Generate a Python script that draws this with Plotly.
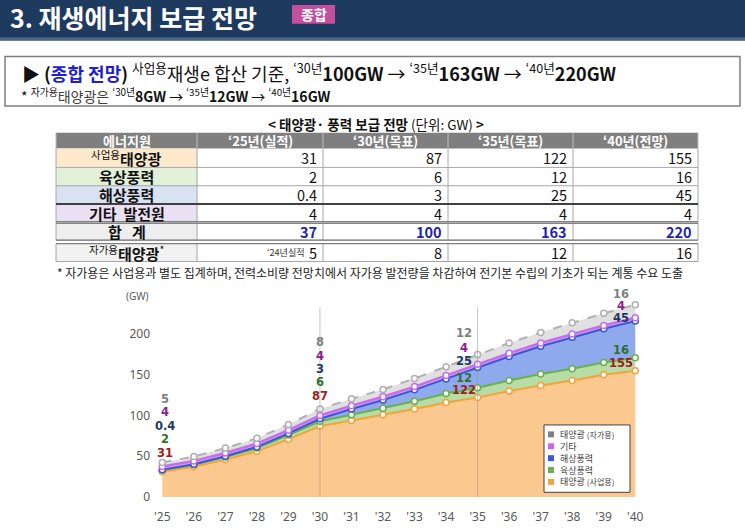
import plotly.graph_objects as go

KR = "Noto Sans CJK KR"
W, H = 745, 529

# stacked area series (GW)
years = list(range(2025, 2041))
year_ticks = ["'25", "'26", "'27", "'28", "'29", "'30", "'31", "'32",
              "'33", "'34", "'35", "'36", "'37", "'38", "'39", "'40"]
solar_biz = [31, 37, 46, 56, 71, 87, 94, 101, 108, 116, 122, 130, 137, 143, 150, 155]
wind_on = [2, 2.5, 3, 4, 5, 6, 7, 8, 9.5, 11, 12, 13, 14, 14.5, 15, 16]
wind_off = [0.4, 0.6, 1, 1.5, 2, 3, 7, 10, 14, 18, 25, 29.5, 34, 38.5, 41.5, 45]
other = [4, 4, 4, 4, 4, 4, 4, 4, 4, 4, 4, 4, 4, 4, 4, 4]
solar_self = [5, 5.5, 6, 6.5, 7, 8, 8.5, 9, 10, 11, 12, 12.5, 13, 14, 15, 16]
y_ticks = [0, 50, 100, 150, 200]

# table
tbl_head = ["에너지원", "‘25년(실적)", "‘30년(목표)", "‘35년(목표)", "‘40년(전망)"]
tbl_rows = ["<sup>사업용</sup><b>태양광</b>", "<b>육상풍력</b>", "<b>해상풍력</b>",
            "<b>기타\u00a0\u00a0발전원</b>", "<b>합\u00a0\u00a0\u00a0계</b>",
            "<sup>자가용</sup><b>태양광</b><sup>*</sup>"]
tbl_solar = [31, 87, 122, 155]
tbl_on = [2, 6, 12, 16]
tbl_off = [0.4, 3, 25, 45]
tbl_other = [4, 4, 4, 4]
tbl_total = [37, 100, 163, 220]
tbl_self = [5, 8, 12, 16]


def px(p):
    return p / W


def py(p):
    return 1 - p / H


def fmt(v):
    return "%g" % v


def note(text, x, y, size, color="#111", xa="left", ya="middle", family=KR):
    return dict(text=text, x=px(x), y=py(y), xref="paper", yref="paper", xanchor=xa,
                yanchor=ya, align=xa if xa != "center" else "center", showarrow=False,
                font=dict(size=size, color=color, family=family))


def prect(x0, x1, y0, y1, fill, line=None, layer="above"):
    return dict(type="rect", xref="paper", yref="paper", x0=px(x0), x1=px(x1),
                y0=py(y1), y1=py(y0), fillcolor=fill, layer=layer,
                line=line if line else dict(width=0))


def pline(x0, x1, y0, y1, color, width):
    return dict(type="line", xref="paper", yref="paper", x0=px(x0), x1=px(x1),
                y0=py(y0), y1=py(y1), line=dict(color=color, width=width))


fig = go.Figure()

# ---- stacked areas ----
series = [
    ("태양광(사업용)", solar_biz, "#f4a23a", "#fbc98f", "solid"),
    ("육상풍력", wind_on, "#6ab04c", "#b7dca5", "solid"),
    ("해상풍력", wind_off, "#3a58d6", "#8ea9ec", "solid"),
    ("기타", other, "#c66ef0", "#dfa8f3", "solid"),
    ("태양광(자가용)", solar_self, "#b0b0b0", "#e0e0e0", "dash"),
]
for name, vals, lc, fc, dash in series:
    fig.add_trace(go.Scatter(
        x=years, y=vals, name=name, stackgroup="one", mode="lines+markers",
        line=dict(color=lc, width=2.5 if name == "기타" else 2, dash=dash),
        fillcolor=fc,
        marker=dict(symbol="circle", size=6, color="white", line=dict(color=lc, width=1.5)),
        showlegend=False, hoverinfo="skip",
    ))

fig.update_xaxes(domain=[px(151), px(690)], range=[2024.642, 2041.736],
                 tickvals=years, ticktext=year_ticks, showgrid=False, zeroline=False,
                 showline=False, ticks="outside", ticklen=5, tickcolor="rgba(0,0,0,0)",
                 tickfont=dict(size=12, color="#595959", family="Noto Sans"))
fig.update_yaxes(domain=[24 / H, 239 / H], range=[-4.01, 257.5], tickvals=y_ticks,
                 showgrid=False, zeroline=False, showline=False,
                 tickfont=dict(size=12, color="#595959", family="Noto Sans"))

shapes = []
ann = []
for yr in (2030, 2035):
    shapes.append(dict(type="line", xref="x", yref="y", x0=yr, x1=yr, y0=0, y1=233,
                       line=dict(color="rgba(150,150,150,0.55)", width=1)))

# ---- header band and summary box ----
shapes.append(prect(0, W, 0, 41, "#1f3a5f", layer="below"))
shapes.append(prect(0, W, 37.5, 41, "#4a6585", layer="below"))
shapes.append(prect(292, 335, 5, 24, "#c2509c"))
shapes.append(prect(5, 740, 57, 107, "white", line=dict(color="#7f7f7f", width=1.5), layer="below"))

ann.append(note("<b>3. 재생에너지 보급 전망</b>", 8, 17, 25, "white"))
ann.append(note("<b>종합</b>", 313.5, 14.5, 14, "white", xa="center"))
line1 = ("▶ <b>(<span style='color:#1f1fd1'>종합 전망</span>)</b> <sup>사업용</sup>재생e 합산 기준, "
         "<sup>‘30년</sup><b>100GW</b> → <sup>‘35년</sup><b>163GW</b> → <sup>‘40년</sup><b>220GW</b>")
ann.append(note(line1, 20, 73, 18))
line2 = ("* <sup>자가용</sup><span style='color:#404040'>태양광은</span> <sup>‘30년</sup><b>8GW</b> → "
         "<sup>‘35년</sup><b>12GW</b> → <sup>‘40년</sup><b>16GW</b>")
ann.append(note(line2, 19, 96, 14))

# ---- table ----
ann.append(note("<b>&lt; 태양광· 풍력 보급 전망</b> (단위: GW) <b>&gt;</b>", 376, 125, 13.5, xa="center"))

col_edges = [56, 197, 323, 448, 573, 698]
row_spans = [(134, 150), (150, 169), (169, 187.5), (187.5, 206), (206, 224.5), (224.5, 242.5), (246, 264)]
first_fill = ["#fde9cc", "#e2efd9", "#d9e2f3", "#ebdff3", "#eeeeee", "#f2f2f2"]

shapes.append(prect(col_edges[0], col_edges[-1], 134, 150, "#7f7f7f", layer="below"))
for (y0, y1), fc in zip(row_spans[1:], first_fill):
    shapes.append(prect(col_edges[0], col_edges[1], y0, y1, fc, layer="below"))

grid = "#a6a6a6"
for (y0, y1) in row_spans[1:]:
    shapes.append(pline(col_edges[0], col_edges[-1], y1, y1, grid, 1))
for x in col_edges:
    shapes.append(pline(x, x, 150, 242.5, grid, 1))
    shapes.append(pline(x, x, 246, 264, grid, 1))
    shapes.append(pline(x, x, 134, 150, "#bfbfbf", 1))
shapes.append(pline(col_edges[0], col_edges[-1], 206, 206, "#404040", 2))
shapes.append(pline(col_edges[0], col_edges[-1], 223.6, 223.6, "#7f7f7f", 1))
shapes.append(pline(col_edges[0], col_edges[-1], 225.6, 225.6, "#7f7f7f", 1))
shapes.append(pline(col_edges[0], col_edges[-1], 242.5, 242.5, "#7f7f7f", 1.2))
shapes.append(pline(col_edges[0], col_edges[-1], 246, 246, "#7f7f7f", 1.2))

for j, h in enumerate(tbl_head):
    cx = (col_edges[j] + col_edges[j + 1]) / 2
    ann.append(note("<b>%s</b>" % h, cx, 142, 13, "white", xa="center"))

row_cy = [(a + b) / 2 for a, b in row_spans[1:]]
for lab, cy in zip(tbl_rows, row_cy):
    ann.append(note(lab, (col_edges[0] + col_edges[1]) / 2, cy, 15, "#111", xa="center"))

for j in range(4):
    xr = col_edges[j + 2] - 4
    vals = [fmt(tbl_solar[j]), fmt(tbl_on[j]), fmt(tbl_off[j]), fmt(tbl_other[j]),
            "<b>%s</b>" % fmt(tbl_total[j]), fmt(tbl_self[j])]
    colors = ["#111", "#111", "#111", "#111", "#1f1fb4", "#111"]
    for v, c, cy in zip(vals, colors, row_cy):
        ann.append(note(v, xr, cy, 14.5, c, xa="right"))
ann.append(note("<sup>‘24년실적</sup>", col_edges[2] - 16, row_cy[-1] - 1, 13, "#333", xa="right"))

ann.append(note("* 자가용은 사업용과 별도 집계하며, 전력소비량 전망치에서 자가용 발전량을 차감하여 "
                "전기본 수립의 기초가 되는 계통 수요 도출", 55, 275, 12, "#222"))

# ---- manual legend ----
shapes.append(prect(544, 630, 429, 497, "white", line=dict(color="#404040", width=1)))
legend_items = [
    ("태양광 <span style='font-size:8px'>(자가용)</span>", "#808080"),
    ("기타", "#cc66ee"),
    ("해상풍력", "#3a58d6"),
    ("육상풍력", "#6ab04c"),
    ("태양광 <span style='font-size:8px'>(사업용)</span>", "#f4a23a"),
]
leg_y = [438.5, 450.5, 462.5, 474.5, 486.5]
for (txt, c), yy in zip(legend_items, leg_y):
    shapes.append(prect(548, 554, yy - 3, yy + 3, c))
    ann.append(note(txt, 558, yy, 9, "#404040"))

# ---- value labels on the chart ----
lab_colors = ["#808080", "#8e1f8e", "#1f3864", "#2f6f2f", "#9c2222"]
lab_series = [solar_self, other, wind_off, wind_on, solar_biz]
lab_spots = [
    (2025.08, 0, [120, 104, 87, 71, 54]),
    (2030, 5, [190.6, 173.2, 157.4, 140.8, 123.8]),
    (2034.57, 10, [201.6, 183.3, 167.5, 145.6, 131]),
    (2039.55, 15, [249, 234.4, 219.8, 180.9, 163.9]),
]
for xx, idx, ys in lab_spots:
    for s, c, yy in zip(lab_series, lab_colors, ys):
        ann.append(dict(text="<b>%s</b>" % fmt(s[idx]), x=xx, y=yy, xref="x", yref="y",
                        xanchor="center", yanchor="middle", showarrow=False,
                        font=dict(size=11.5, color=c, family="DejaVu Sans")))

ann.append(note("(GW)", 137, 299, 10, "#595959", xa="center", family="Noto Sans"))

fig.update_layout(width=W, height=H, margin=dict(l=0, r=0, t=0, b=0),
                  paper_bgcolor="white", plot_bgcolor="white",
                  shapes=shapes, annotations=ann, showlegend=False,
                  font=dict(family=KR))
fig.write_html("out.html", config={"displayModeBar": False},
               post_script="document.body.style.margin='0';document.body.style.overflow='hidden';")
